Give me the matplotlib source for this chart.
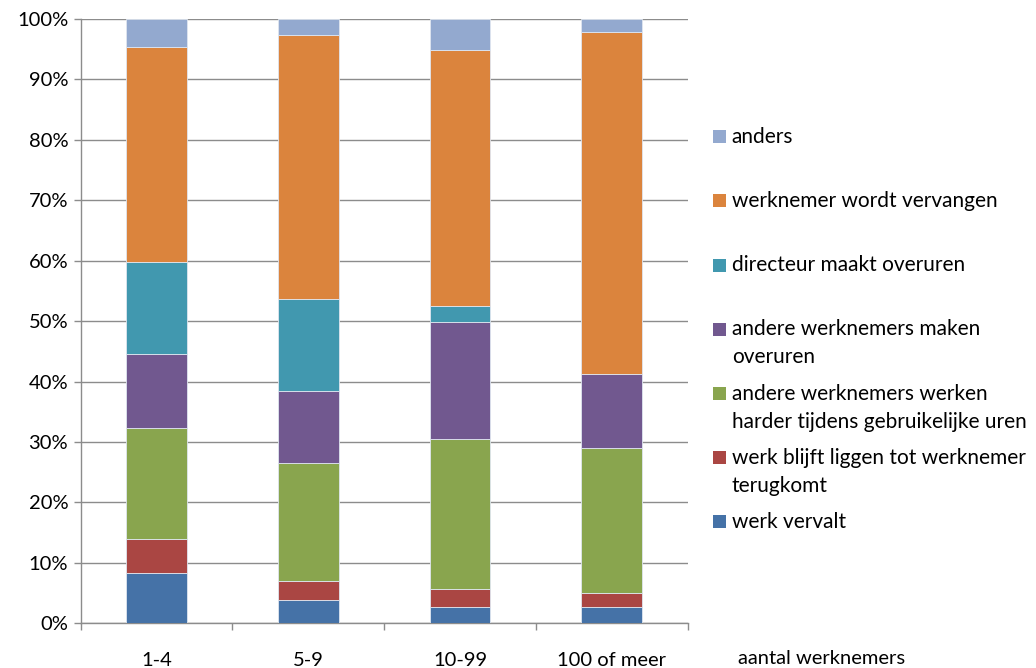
import matplotlib.pyplot as plt
import numpy as np
from matplotlib.patches import Rectangle

plt.rcParams['font.family'] = ['Lato', 'DejaVu Sans']

# categorieën (bedrijfsgrootte) en aandelen per opvang-oplossing, in %
categories = ["1-4", "5-9", "10-99", "100 of meer"]
series_names = [
    "werk vervalt",
    "werk blijft liggen tot werknemer\nterugkomt",
    "andere werknemers werken\nharder tijdens gebruikelijke uren",
    "andere werknemers maken\noveruren",
    "directeur maakt overuren",
    "werknemer wordt vervangen",
    "anders",
]
werk_vervalt = [8.3, 3.8, 2.65, 2.65]
werk_blijft_liggen = [5.7, 3.25, 3.05, 2.4]
harder_werken = [18.4, 19.45, 24.8, 24.0]
overuren_werknemers = [12.2, 12.0, 19.4, 12.15]
overuren_directeur = [15.2, 15.2, 2.6, 0.0]
vervangen = [35.6, 43.7, 42.4, 56.7]
anders = [4.6, 2.6, 5.1, 2.1]

series = [werk_vervalt, werk_blijft_liggen, harder_werken, overuren_werknemers,
          overuren_directeur, vervangen, anders]
colors = ['#4572A7', '#AA4643', '#89A54E', '#71588F', '#4198AF', '#DB843D', '#93A9CF']

FS = 14.5

fig = plt.figure(figsize=(10.36, 6.68), dpi=100)
ax = fig.add_axes([0.0779, 0.0669, 0.5859, 0.9047])

x = np.arange(len(categories))
bottom = np.zeros(len(categories))
for vals, col in zip(series, colors):
    vals = np.array(vals)
    ax.bar(x, vals, width=0.4, bottom=bottom, color=col,
           edgecolor='#dfe6f0', linewidth=0.6, zorder=3)
    bottom += vals

ax.set_xlim(-0.5, len(categories) - 0.5)
ax.set_ylim(0, 100)
ax.set_yticks(np.arange(0, 101, 10))
ax.set_yticklabels([f"{v}%" for v in range(0, 101, 10)], fontsize=FS)
ax.yaxis.grid(True, color='#8c8c8c', linewidth=1.0, zorder=0)
ax.set_axisbelow(True)

# categorienamen onder het midden van de staaf, streepjes op de grenzen
ax.set_xticks(x)
ax.set_xticklabels(categories, fontsize=FS)
ax.tick_params(axis='x', length=0, pad=21)
ax.set_xticks(np.arange(-0.5, len(categories)), minor=True)
ax.tick_params(axis='x', which='minor', length=5, color='#8c8c8c', width=1)
ax.tick_params(axis='y', length=5, color='#8c8c8c', width=1, pad=4)

for side in ['top', 'right']:
    ax.spines[side].set_visible(False)
for side in ['left', 'bottom']:
    ax.spines[side].set_color('#8c8c8c')
    ax.spines[side].set_linewidth(1.0)

fig.text(738 / 1036, 1 - 658 / 668, "aantal werknemers", fontsize=FS,
         ha='left', va='center')

# legenda: bovenste reeks bovenaan
W, H = 1036, 668
y0 = 136.7
step = 64.2
for i, (name, col) in enumerate(zip(series_names[::-1], colors[::-1])):
    yc = y0 + i * step
    fig.add_artist(Rectangle((712.7 / W, 1 - (yc + 6.5) / H), 13 / W, 13 / H,
                             transform=fig.transFigure, facecolor=col,
                             edgecolor='none'))
    for j, line in enumerate(name.split("\n")):
        fig.text(731.7 / W, 1 - (yc + j * 28) / H, line, fontsize=15,
                 ha='left', va='center')

fig.savefig("out.png", dpi=100)
